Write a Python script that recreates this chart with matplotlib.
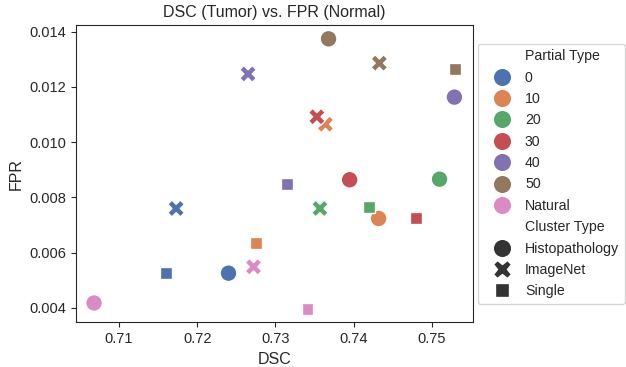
import matplotlib
matplotlib.use('Agg')
import matplotlib.pyplot as plt
import seaborn as sns
import pandas as pd

# valores
partial = ['0', '0', '0', '10', '10', '10', '20', '20', '20',
           '30', '30', '30', '40', '40', '40', '50', '50', '50',
           'Natural', 'Natural', 'Natural']
cluster = ['Histopathology', 'ImageNet', 'Single'] * 7
dsc = [0.7240, 0.7173, 0.7160,
       0.7432, 0.7364, 0.7275,
       0.7510, 0.7357, 0.7420,
       0.7395, 0.7353, 0.7480,
       0.7529, 0.7265, 0.7315,
       0.7368, 0.7433, 0.7530,
       0.7068, 0.7272, 0.7341]
fpr = [0.00526, 0.00760, 0.00526,
       0.00724, 0.01065, 0.00635,
       0.00866, 0.00760, 0.00766,
       0.00864, 0.01092, 0.00726,
       0.01163, 0.01247, 0.00849,
       0.01374, 0.01286, 0.01266,
       0.00418, 0.00549, 0.00397]

hue_order = ['0', '10', '20', '30', '40', '50', 'Natural']
style_order = ['Histopathology', 'ImageNet', 'Single']

df = pd.DataFrame({'DSC': dsc, 'FPR': fpr,
                   'Partial Type': partial, 'Cluster Type': cluster})

sns.set_style('ticks')
plt.rcParams['font.family'] = ['Liberation Sans', 'DejaVu Sans']

fig = plt.figure(figsize=(6.26, 3.67), dpi=100)
ax = fig.add_axes([0.1214, 0.1218, 0.6346, 0.8092])

sns.scatterplot(data=df, x='DSC', y='FPR', hue='Partial Type', style='Cluster Type',
                hue_order=hue_order, style_order=style_order,
                palette='deep', s=145, ax=ax)

ax.set_title('DSC (Tumor) vs. FPR (Normal)', fontsize=11.5)
ax.set_xlabel('DSC', fontsize=11.5)
ax.set_ylabel('FPR', fontsize=11.5)
ax.tick_params(labelsize=10.5)
ax.set_xticks([0.71, 0.72, 0.73, 0.74, 0.75])
ax.set_yticks([0.004, 0.006, 0.008, 0.010, 0.012, 0.014])

leg = ax.legend(loc='center left', bbox_to_anchor=(1.0, 0.5), fontsize=10.2,
                borderaxespad=0.3, handlelength=2.7, handletextpad=0.25,
                labelspacing=0.52, markerscale=1.1)

fig.savefig('out.png', dpi=100)
